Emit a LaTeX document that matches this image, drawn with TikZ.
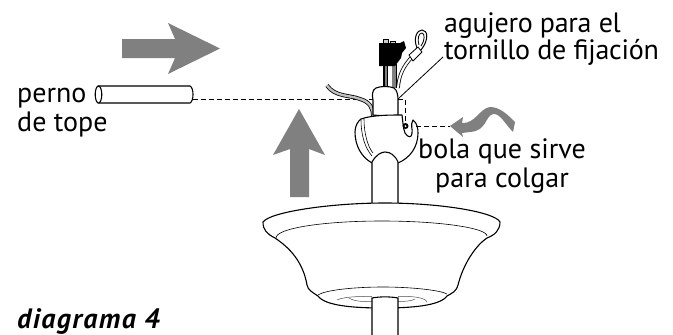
\documentclass[tikz,border=0pt]{standalone}
\usepackage{fontspec}
\setmainfont{PT Sans}
\definecolor{arrowgray}{gray}{0.5}
\tikzset{
  lbl/.style={anchor=base west,inner sep=0pt,font=\fontsize{28}{30}\selectfont},
  lblc/.style={anchor=base,inner sep=0pt,font=\fontsize{28}{30}\selectfont},
  bigarrow/.style={fill=arrowgray,draw=none},
  part/.style={draw=black,line width=1.1pt,fill=white,line join=round},
  thin part/.style={draw=black,line width=.6pt},
  guide/.style={draw=black,line width=.8pt,dash pattern=on 5pt off 3pt},
}
\begin{document}
\begin{tikzpicture}[x=1pt,y=-1pt]
\useasboundingbox (0,0) rectangle (673,335);
% arrows
\fill[bigarrow] (122,39) -- (175,39) -- (168,23) -- (220,48.5) -- (168,74) -- (175,58) -- (122,58) -- cycle;
\fill[bigarrow] (290,197) -- (290,149) -- (273,155) -- (299,109) -- (325,155) -- (309,149) -- (309,197) -- cycle;
\fill[bigarrow] (450,126) -- (463,117) -- (462,123) .. controls (475,124) and (480,108) .. (490,107) .. controls (500,107) and (508,115) .. (515,122) -- (513,132) .. controls (505,124) and (500,113) .. (493,114) .. controls (485,116) and (487,131) .. (470,132) -- (462,133) -- (463,137) -- cycle;
% pin
\coordinate (pinend) at (193,99.5);
\coordinate (collarL) at (373,99.5);
\draw[guide] (pinend) -- (collarL);
\draw[part] (98,86) -- (190,86) .. controls (194,88) and (194,101) .. (190,103) -- (98,103) -- cycle;
\draw[part] (98.5,94.5) ellipse (3.3 and 8.5);
% loose wire
\draw[black,line width=4pt] (327,85.5) .. controls (335,97) and (350,95) .. (360,99) .. controls (370,102) and (373,108) .. (373,116);
\draw[black!25,line width=2.4pt] (327,85.5) .. controls (335,97) and (350,95) .. (360,99) .. controls (370,102) and (373,108) .. (373,116);
% top wires
\fill[black] (383,64) rectangle (397,88);
\fill[arrowgray] (384.5,64) rectangle (387,88);
\fill[white] (387.5,64) rectangle (391.5,88);
\fill[arrowgray] (392,64) rectangle (395.5,88);
\draw[black,line width=3.6pt] (398,88) .. controls (399,74) and (404,66) .. (411,58);
\draw[white,line width=2pt] (398,88) .. controls (399,74) and (404,66) .. (411,58);
% plug prongs and body
\draw[black,fill=black!20,line width=.5pt] (383,44) rectangle (388,39);
\draw[black,fill=black!20,line width=.5pt] (390,44) rectangle (395,41);
\fill[black] (379,43) -- (400,43) -- (404,41) -- (406,48) -- (402,53) -- (401,58) -- (395,66) -- (379,66) -- cycle;
% ring terminal
\draw[black,line width=1pt] (417,48) .. controls (413,38) and (417,30) .. (422,30) .. controls (428,30) and (429,40) .. (421,50);
\draw[black,line width=.8pt] (419,45) .. controls (417,38) and (419,33) .. (422,33) .. controls (425,33) and (425,41) .. (421,46);
\draw[part,line width=.8pt] (409,55) -- (418,47) -- (422,52) -- (413,61) -- cycle;
% collar
\draw[part] (373,115) -- (373,100) .. controls (372,95) and (372,90) .. (376,88) .. controls (380,86) and (390,86) .. (394,88) .. controls (397,90) and (398,95) .. (398,100) -- (398,117) -- cycle;
% ball
\draw[part] (361,119) .. controls (372,115) and (390,115) .. (402,115) .. controls (403,122) and (403,128) .. (405,133) .. controls (408,138) and (412,138) .. (412,133) .. controls (413,130) and (410,125) .. (413,120) .. controls (417,123) and (418,128) .. (418,133) .. controls (418,147) and (410,158) .. (398,163) -- (372,163) .. controls (361,157) and (355,145) .. (355,132) .. controls (355,126) and (358,121) .. (361,119) -- cycle;
\draw[thin part] (361,120) .. controls (361,135) and (365,148) .. (372,156);
\draw[thin part] (364,119) .. controls (364,134) and (368,147) .. (373,153);
\fill[black] (405.5,126) circle (3);
\fill[white] (405.5,126) circle (1);
% upper rod
\draw[part] (372,203) -- (372,162) .. controls (376,155) and (381,152) .. (385,152) .. controls (390,152) and (395,155) .. (398,162) -- (398,203);
% guides on right
\coordinate (collarR) at (398,99);
\coordinate (slotTop) at (405.5,123);
\draw[guide] (collarR) -- (405.5,99) -- (slotTop);
\coordinate (ballR) at (416,126);
\coordinate (squiggle) at (450,126);
\draw[guide] (ballR) -- (squiggle);
\coordinate (holeLabel) at (443,57);
\draw[black,line width=.8pt] (holeLabel) -- (collarR);
% canopy
\draw[part] (263,222) .. controls (270,212) and (330,203) .. (385,203) .. controls (440,203) and (495,212) .. (500,222) .. controls (500,230) and (495,235) .. (487,238) .. controls (475,246) and (463,265) .. (458,285) .. controls (456,292) and (452,293) .. (447,296) .. controls (440,306) and (410,308) .. (383,308) .. controls (355,308) and (325,306) .. (318,296) .. controls (312,292) and (308,290) .. (307,285) .. controls (303,262) and (290,248) .. (275,238) .. controls (267,234) and (263,230) .. (263,222) -- cycle;
\draw[thin part] (276,238) .. controls (276,228) and (325,221) .. (382,221) .. controls (440,221) and (487,228) .. (487,236);
\draw[thin part] (318,295) .. controls (325,290) and (355,287) .. (383,287) .. controls (410,287) and (440,290) .. (447,294);
\draw[draw=black!70,line width=.5pt] (337,300) .. controls (345,296) and (365,296.5) .. (372,296.5) (398,296.5) .. controls (410,296) and (425,297) .. (427,302);
\draw[draw=black!70,line width=.5pt] (349,298) .. controls (355,302) and (365,301.5) .. (372,301.5) (398,301.5) .. controls (405,301.5) and (412,301) .. (415,299);
% lower rod
\fill[white] (372,297) rectangle (398,335);
\draw[black,line width=1.1pt] (372,335) -- (372,298) .. controls (380,296.5) and (390,296.5) .. (398,298) -- (398,335);
% labels
\node[lbl] (hole1) at (444,32) {\addfontfeature{LetterSpace=-1}agujero para el};
\node[lbl] (hole2) at (444,59) {\addfontfeature{LetterSpace=-1}tornillo de fijación};
\node[lbl] (perno1) at (17,102) {perno};
\node[lbl] (perno2) at (17,131) {de tope};
\node[lblc] (bola1) at (502,158) {bola que sirve};
\node[lblc] (bola2) at (502,187) {para colgar};
\node[anchor=base west,inner sep=0pt,font=\fontsize{28}{30}\selectfont\bfseries\itshape] (diag) at (17,328.5) {\addfontfeature{LetterSpace=5}diagrama 4};
\end{tikzpicture}
\end{document}
